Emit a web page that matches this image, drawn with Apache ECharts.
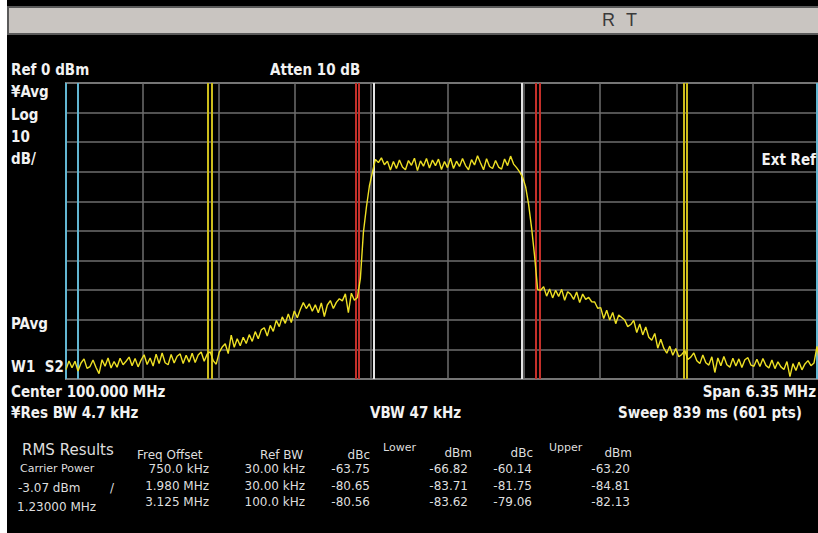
<!DOCTYPE html>
<html>
<head>
<meta charset="utf-8">
<script src="https://cdn.jsdelivr.net/npm/echarts/dist/echarts.min.js"></script>
<style>
html,body{margin:0;padding:0;background:#000;}
#c{width:818px;height:533px;}
</style>
</head>
<body>
<div id="c"></div>
<script>
// Sweep settings (frequency offsets from center, kHz)
const sweepStartKHz = -3175;
const sweepStepKHz = 25;
const spanKHz = 6350;
const divKHz = 635;

// Measured trace, dBm (one value per sweep step)
const traceDbm = [
  -96.8,-93.9,-96.2,-94.0,-97.3,-94.6,-93.2,-96.4,-95.8,-93.6,
  -96.1,-98.2,-93.5,-95.7,-92.9,-96.3,-94.1,-96.0,-93.0,-95.2,
  -94.0,-92.6,-95.5,-93.1,-95.9,-93.6,-91.8,-95.1,-92.9,-95.6,
  -91.6,-94.8,-91.2,-94.5,-95.2,-91.7,-94.6,-92.3,-91.5,-94.8,
  -92.0,-94.3,-91.3,-94.4,-91.9,-90.9,-94.0,-91.6,-90.8,-93.8,
  -95.0,-91.0,-89.2,-88.1,-91.4,-85.2,-89.3,-86.4,-88.8,-85.9,
  -88.0,-85.0,-87.3,-84.0,-86.4,-83.4,-82.7,-85.5,-81.9,-83.9,
  -80.2,-82.3,-79.0,-81.2,-78.0,-80.9,-77.0,-79.3,-76.5,-74.2,
  -76.2,-74.6,-77.1,-74.9,-77.6,-74.3,-78.9,-75.0,-73.5,-76.2,
  -74.1,-72.9,-73.6,-71.2,-77.6,-71.0,-73.4,-72.5,-66.0,-50.5,
  -42.0,-34.8,-30.2,-25.8,-26.9,-25.3,-27.6,-26.4,-29.4,-26.5,
  -28.9,-26.0,-28.4,-29.3,-26.2,-27.8,-25.4,-29.6,-26.3,-28.1,
  -25.5,-28.7,-26.0,-27.9,-25.7,-29.2,-26.5,-28.6,-25.4,-28.9,
  -26.4,-28.2,-25.5,-27.9,-29.3,-25.9,-27.7,-24.6,-27.0,-29.3,
  -25.6,-28.2,-28.9,-26.2,-28.4,-29.1,-25.7,-27.9,-24.7,-27.4,
  -28.6,-30.0,-31.8,-35.0,-41.0,-49.0,-58.5,-69.8,-70.0,-68.8,
  -72.0,-69.6,-72.6,-70.0,-72.1,-69.7,-73.4,-70.5,-71.4,-73.1,
  -70.6,-74.2,-71.3,-73.1,-72.4,-73.9,-74.0,-76.1,-75.9,-79.6,
  -76.8,-80.1,-77.5,-81.3,-78.4,-79.2,-80.1,-82.3,-81.6,-80.2,
  -84.3,-81.4,-85.1,-82.4,-85.9,-86.9,-84.6,-89.6,-86.6,-89.6,
  -91.3,-88.9,-92.0,-89.7,-92.5,-91.7,-90.4,-93.4,-92.6,-91.2,
  -93.8,-94.8,-91.9,-94.5,-95.3,-92.5,-97.8,-92.9,-95.5,-92.4,
  -95.2,-96.0,-93.0,-95.6,-93.2,-96.1,-93.5,-92.8,-95.3,-95.7,
  -93.3,-95.8,-93.1,-95.4,-96.3,-93.6,-96.5,-94.2,-95.9,-96.8,
  -94.1,-99.2,-94.8,-97.1,-94.3,-96.9,-94.9,-93.8,-95.5,-94.6,
  -89.0,-95.3,-94.5,-96.5,-95.3
];

// Integration bandwidths (kHz)
const carrierBwKHz = 1230;
const offsetKHz = [750, 1980, 3125];
const offsetRefBwKHz = [30, 30, 100];
const offsetColors = ['#c4302a', '#cdbd1c', '#62b6d2'];

// RMS results table
const tblFreqOffset = ['750.0 kHz', '1.980 MHz', '3.125 MHz'];
const tblRefBw = ['30.00 kHz', '30.00 kHz', '100.0 kHz'];
const tblLowerDbc = ['-63.75', '-80.65', '-80.56'];
const tblLowerDbm = ['-66.82', '-83.71', '-83.62'];
const tblUpperDbc = ['-60.14', '-81.75', '-79.06'];
const tblUpperDbm = ['-63.20', '-84.81', '-82.13'];
const carrierPower = '-3.07 dBm';
const carrierBwText = '1.23000 MHz';

const traceData = traceDbm.map((v, i) => [sweepStartKHz + i * sweepStepKHz, v]);

// Vertical integration-band edges
const markLines = [];
const half = carrierBwKHz / 2;
[-half, half].forEach(x => markLines.push({ xAxis: x, lineStyle: { color: '#e4e4e4', width: 2, type: 'solid' } }));
offsetKHz.forEach((f, k) => {
  const h = offsetRefBwKHz[k] / 2;
  [-f - h, -f + h, f - h, f + h].forEach(x =>
    markLines.push({ xAxis: x, lineStyle: { color: offsetColors[k], width: 2, type: 'solid' } }));
});

const BOLD = 'bold 15px "Liberation Sans Narrow","DejaVu Sans Condensed","DejaVu Sans",sans-serif';
const TBL = '"DejaVu Sans",sans-serif';
const TFILL = '#dedede';

function txt(text, x, y, font, opts) {
  return {
    type: 'text', silent: true, z: 100,
    style: Object.assign({ text, x, y, font, fill: '#f2f2f2', align: 'left', verticalAlign: 'middle' }, opts || {})
  };
}

const graphics = [
  { type: 'rect', silent: true, z: 90, shape: { x: 0, y: 0, width: 7, height: 533 }, style: { fill: '#ffffff' } },
  { type: 'rect', silent: true, z: 90, shape: { x: 8, y: 7, width: 812, height: 27 }, style: { fill: '#c9c5c1', stroke: '#5a5a5a', lineWidth: 2 } },
  txt('R', 602, 20, '18px "Liberation Sans",sans-serif', { fill: '#3a3a3a' }),
  txt('T', 626, 20, '18px "Liberation Sans",sans-serif', { fill: '#3a3a3a' }),
  txt('Ref 0 dBm', 11, 70, BOLD),
  txt('Atten 10 dB', 270, 70, BOLD),
  txt('¥Avg', 11, 92, BOLD),
  txt('Log', 11, 115, BOLD),
  txt('10', 11, 137, BOLD),
  txt('dB/', 11, 159, BOLD),
  txt('Ext Ref', 816, 160, BOLD, { align: 'right' }),
  txt('PAvg', 11, 324, BOLD),
  txt('W1  S2', 11, 367, BOLD),
  txt('Center 100.000 MHz', 11, 392, BOLD),
  txt('Span 6.35 MHz', 816, 392, BOLD, { align: 'right' }),
  txt('¥Res BW 4.7 kHz', 11, 413, BOLD),
  txt('VBW 47 kHz', 370, 413, BOLD),
  txt('Sweep 839 ms (601 pts)', 618, 413, BOLD),
  txt('RMS Results', 22, 450, '15px ' + TBL, { fill: TFILL }),
  txt('Carrier Power', 20, 468, '11px ' + TBL, { fill: TFILL }),
  txt(carrierPower, 18, 488, '12px ' + TBL, { fill: TFILL }),
  txt('/', 110, 488, '12px ' + TBL, { fill: TFILL }),
  txt(carrierBwText, 17, 507, '12px ' + TBL, { fill: TFILL }),
  txt('Freq Offset', 137, 455, '12px ' + TBL, { fill: TFILL }),
  txt('Ref BW', 303, 455, '12px ' + TBL, { fill: TFILL, align: 'right' }),
  txt('dBc', 370, 455, '12px ' + TBL, { fill: TFILL, align: 'right' }),
  txt('Lower', 383, 447, '11px ' + TBL, { fill: TFILL }),
  txt('dBm', 472, 453, '12px ' + TBL, { fill: TFILL, align: 'right' }),
  txt('dBc', 533, 453, '12px ' + TBL, { fill: TFILL, align: 'right' }),
  txt('Upper', 549, 447, '11px ' + TBL, { fill: TFILL }),
  txt('dBm', 632, 453, '12px ' + TBL, { fill: TFILL, align: 'right' })
];
const rowY = [469, 486, 502];
rowY.forEach((y, r) => {
  const f = '12px ' + TBL;
  const o = { fill: TFILL, align: 'right' };
  graphics.push(txt(tblFreqOffset[r], 209, y, f, o));
  graphics.push(txt(tblRefBw[r], 305, y, f, o));
  graphics.push(txt(tblLowerDbc[r], 370, y, f, o));
  graphics.push(txt(tblLowerDbm[r], 468, y, f, o));
  graphics.push(txt(tblUpperDbc[r], 532, y, f, o));
  graphics.push(txt(tblUpperDbm[r], 630, y, f, o));
});

const chart = echarts.init(document.getElementById('c'), null, { renderer: 'svg', width: 818, height: 533 });
chart.setOption({
  backgroundColor: '#000',
  animation: false,
  grid: {
    left: 66, top: 83, width: 763, height: 296, outerBoundsMode: 'none',
    show: true, borderColor: '#8a8a8a', borderWidth: 2, backgroundColor: 'transparent'
  },
  xAxis: {
    type: 'value', min: sweepStartKHz, max: sweepStartKHz + spanKHz, interval: divKHz,
    axisLine: { show: false }, axisTick: { show: false }, axisLabel: { show: false },
    splitLine: { show: true, lineStyle: { color: '#6e6e6e', width: 1.5 } }
  },
  yAxis: {
    type: 'value', min: -100, max: 0, interval: 10,
    axisLine: { show: false }, axisTick: { show: false }, axisLabel: { show: false },
    splitLine: { show: true, lineStyle: { color: '#6e6e6e', width: 1.5 } }
  },
  series: [
    {
      type: 'line', data: [], silent: true, z: 2,
      markLine: { silent: true, symbol: 'none', label: { show: false }, data: markLines, animation: false }
    },
    {
      type: 'line', data: traceData, showSymbol: false, symbol: 'none', silent: true, z: 5,
      lineStyle: { color: '#eee024', width: 1.4 }
    }
  ],
  graphic: graphics
});
</script>
</body>
</html>
